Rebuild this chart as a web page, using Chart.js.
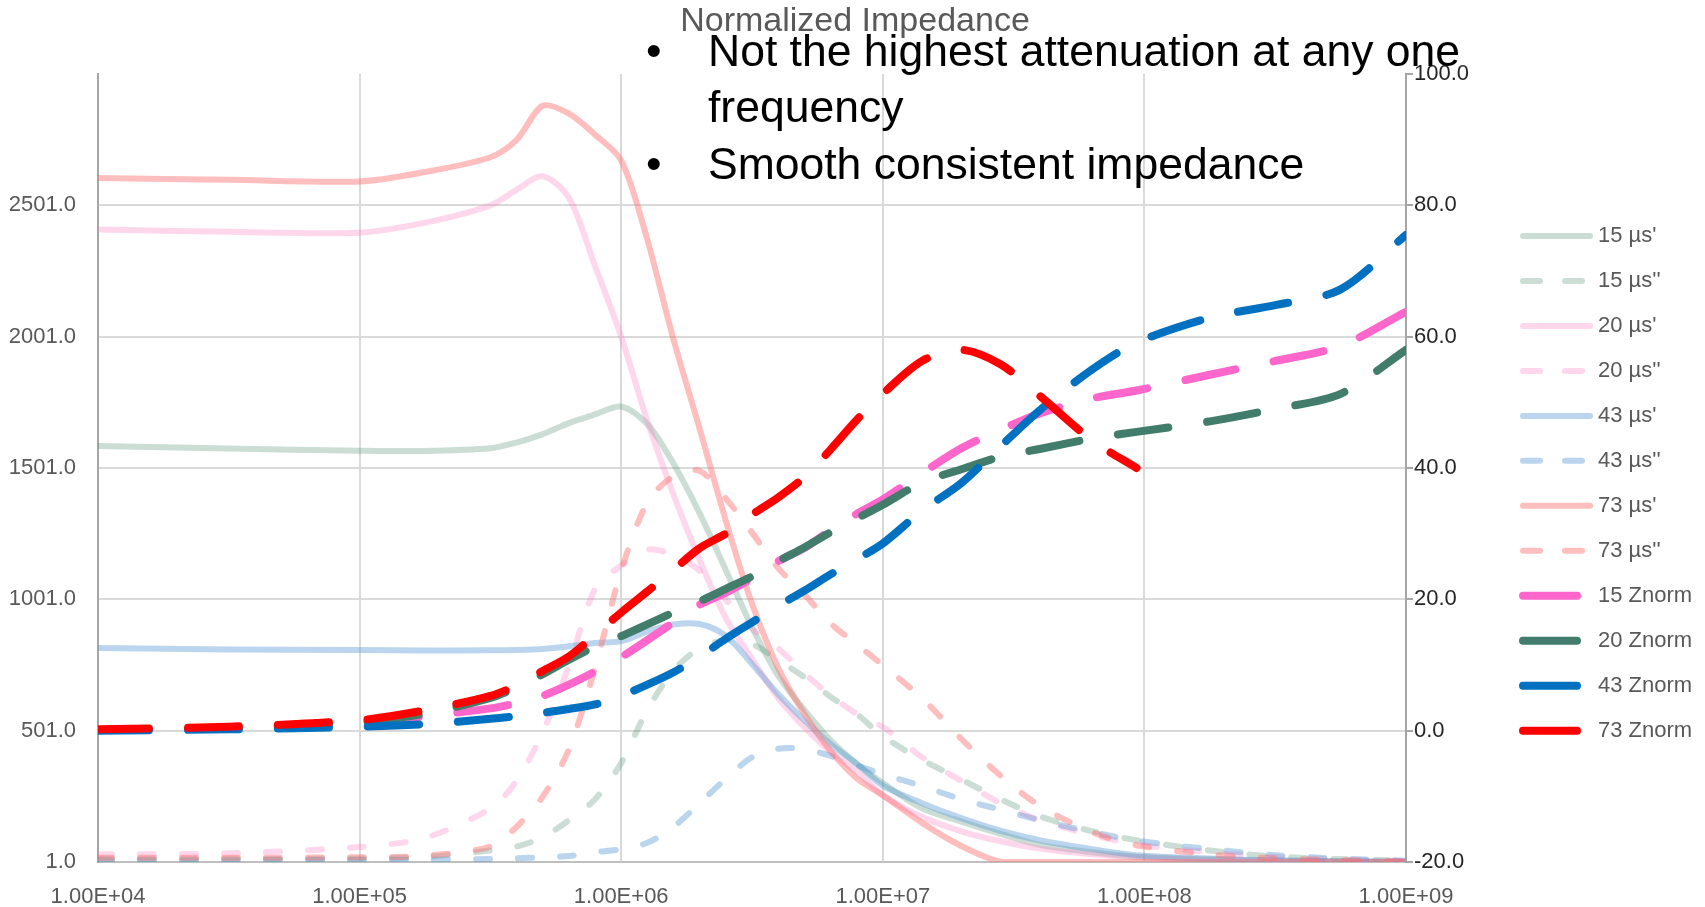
<!DOCTYPE html>
<html>
<head>
<meta charset="utf-8">
<script src="https://cdn.jsdelivr.net/npm/chart.js@4.4.1/dist/chart.umd.min.js"></script>
<style>
  html, body { margin: 0; padding: 0; background: #ffffff; overflow: hidden; }
  canvas { display: block; }
</style>
</head>
<body>
<canvas id="impedanceChart" width="1705" height="907"></canvas>
<script>
// Measurement frequencies (Hz)
const frequencyHz = [1e4, 31623, 1e5, 177828, 316228, 398107, 501187, 630957, 794328, 1e6,
  1258925, 1584893, 1995262, 2511886, 3162278, 3981072, 5011872, 6309573, 7943282, 1e7,
  14125375, 19952623, 28183829, 39810717, 63095734, 93325430, 177827941, 316227766, 562341325, 1e9];

// Complex permeability, real part (mu') and imaginary part (mu'') per material
const mu15Real = [1585, 1575, 1567, 1566, 1576, 1598, 1630, 1672, 1705, 1735, 1668, 1517, 1328, 1112, 895, 710, 580, 465, 375, 302, 205, 155, 108, 66, 38, 21, 11, 7, 4, 2];
const mu15Imag = [12, 12, 14, 20, 45, 60, 95, 160, 240, 378, 580, 730, 815, 845, 830, 770, 705, 630, 565, 480, 390, 315, 240, 175, 118, 84, 45, 22, 12, 6];
const mu20Real = [2409, 2400, 2397, 2435, 2501, 2560, 2612, 2530, 2270, 2001, 1680, 1400, 1150, 930, 775, 625, 515, 420, 345, 255, 172, 118, 80, 52, 30, 19, 8, 4, 2, 1];
const mu20Imag = [30, 34, 58, 93, 205, 310, 495, 747, 1040, 1130, 1190, 1170, 1110, 1000, 890, 815, 720, 635, 565, 515, 400, 310, 225, 160, 105, 68, 38, 20, 10, 5];
const mu43Real = [816, 810, 808, 806, 807, 808, 812, 822, 835, 842, 878, 905, 907, 862, 755, 640, 540, 450, 375, 292, 225, 168, 120, 84, 50, 27, 14, 7, 4, 2];
const mu43Imag = [8, 8, 9, 10, 12, 15, 19, 24, 38, 50, 74, 135, 225, 318, 400, 432, 432, 405, 370, 335, 290, 240, 200, 160, 115, 83, 50, 27, 14, 6];
const mu73Real = [2605, 2598, 2592, 2628, 2684, 2750, 2880, 2850, 2770, 2672, 2370, 1990, 1650, 1300, 985, 740, 565, 425, 320, 255, 150, 62, 2, 1, 1, 1, 1, 1, 1, 1];
const mu73Imag = [17, 17, 19, 25, 60, 135, 250, 430, 740, 1110, 1370, 1470, 1490, 1385, 1255, 1120, 1020, 910, 830, 750, 625, 470, 330, 215, 115, 65, 30, 15, 8, 4];

// Normalized impedance per material
const zNorm15 = [0.1, 0.4, 1.2, 2.2, 3.4, 4.2, 5.3, 7.0, 9.0, 11.2, 13.8, 16.5, 19.2, 21.0, 23.2, 25.8, 27.8, 30.5, 33.0, 35.2, 39.2, 43.0, 45.8, 48.3, 50.6, 51.8, 54.2, 56.3, 58.6, 63.8];
const zNorm20 = [0.1, 0.4, 1.3, 2.6, 5.0, 6.6, 8.6, 10.8, 12.8, 14.4, 16.2, 18.0, 19.7, 21.6, 23.5, 25.8, 27.9, 30.2, 32.3, 34.4, 37.8, 39.8, 41.7, 42.9, 44.5, 45.5, 47.1, 49.0, 51.3, 58.0];
const zNorm43 = [0.0, 0.2, 0.6, 1.0, 1.8, 2.2, 2.7, 3.3, 4.0, 5.3, 7.0, 8.9, 11.3, 14.0, 16.5, 19.0, 21.3, 23.8, 26.1, 28.5, 33.5, 37.7, 43.3, 48.8, 55.0, 59.1, 62.9, 64.8, 67.2, 75.5];
const zNorm73 = [0.2, 0.6, 1.6, 3.1, 5.3, 6.9, 9.1, 11.3, 14.6, 18.0, 21.2, 24.5, 27.8, 30.0, 32.9, 35.5, 38.6, 42.8, 47.3, 51.3, 56.3, 58.0, 55.8, 51.0, 44.2, 40.0, null, null, null, null];

// Axis tick values
const freqTicks = [1e4, 1e5, 1e6, 1e7, 1e8, 1e9];
const muTicks = [1, 501, 1001, 1501, 2001, 2501];
const zTicks = [-20, 0, 20, 40, 60, 80, 100];

const chartTitle = 'Normalized Impedance';
const bulletLines = [
  { bullet: true, text: 'Not the highest attenuation at any one' },
  { bullet: false, text: 'frequency' },
  { bullet: true, text: 'Smooth consistent impedance' }
];

const FONT = '"Liberation Sans", Arial, sans-serif';
const GREY_TEXT = '#595959';

function series(label, values, color, axis, width, dash, legendDash, legendLen) {
  return {
    label,
    data: values.map((v, i) => ({ x: frequencyHz[i], y: v })),
    yAxisID: axis,
    borderColor: color,
    backgroundColor: color,
    borderWidth: width,
    borderDash: dash,
    borderCapStyle: 'round',
    borderJoinStyle: 'round',
    pointRadius: 0,
    pointHoverRadius: 0,
    fill: false,
    spanGaps: false,
    tension: 0.3,
    legendDash,
    legendLen
  };
}

const SOLID = [];
const SHORT_DASH = [14, 28];
const LONG_DASH = [51, 39];
const LEGEND_DASH = [17, 25];

const datasets = [
  series("15 \u00b5s'",  mu15Real, 'rgba(84,141,117,0.30)',  'yMu', 6, SOLID, SOLID, 67),
  series("15 \u00b5s''", mu15Imag, 'rgba(84,141,117,0.30)',  'yMu', 6, SHORT_DASH, LEGEND_DASH, 59),
  series("20 \u00b5s'",  mu20Real, 'rgba(255,130,200,0.32)', 'yMu', 6, SOLID, SOLID, 67),
  series("20 \u00b5s''", mu20Imag, 'rgba(255,130,200,0.32)', 'yMu', 6, SHORT_DASH, LEGEND_DASH, 59),
  series("43 \u00b5s'",  mu43Real, 'rgba(91,155,213,0.42)',  'yMu', 6, SOLID, SOLID, 67),
  series("43 \u00b5s''", mu43Imag, 'rgba(91,155,213,0.42)',  'yMu', 6, SHORT_DASH, LEGEND_DASH, 59),
  series("73 \u00b5s'",  mu73Real, 'rgba(255,110,110,0.45)', 'yMu', 6, SOLID, SOLID, 67),
  series("73 \u00b5s''", mu73Imag, 'rgba(255,110,110,0.45)', 'yMu', 6, SHORT_DASH, LEGEND_DASH, 59),
  series('15 Znorm', zNorm15, '#ff66cc', 'yZ', 8, LONG_DASH, SOLID, 54),
  series('20 Znorm', zNorm20, '#417d6a', 'yZ', 8, LONG_DASH, SOLID, 54),
  series('43 Znorm', zNorm43, '#0070c0', 'yZ', 8, LONG_DASH, SOLID, 54),
  series('73 Znorm', zNorm73, '#ff0000', 'yZ', 8, LONG_DASH, SOLID, 54)
];
// later series are painted over earlier ones
datasets.forEach((ds, i) => { ds.order = datasets.length - i; });

function sciLabel(v) {
  const exp = Math.round(Math.log10(v));
  const mant = v / Math.pow(10, exp);
  return mant.toFixed(2) + 'E+' + String(exp).padStart(2, '0');
}

// Legend column, title and bullet text drawn on top of the plot
const overlayPlugin = {
  id: 'overlay',
  afterDraw(chart) {
    const ctx = chart.ctx;
    ctx.save();

    // legend
    const lx = 1523, tx = 1598, top = 236, gap = 44.97;
    chart.data.datasets.forEach((ds, i) => {
      const y = top + i * gap;
      ctx.strokeStyle = ds.borderColor;
      ctx.lineWidth = ds.borderWidth;
      ctx.lineCap = 'round';
      ctx.setLineDash(ds.legendDash);
      ctx.beginPath();
      ctx.moveTo(lx, y);
      ctx.lineTo(lx + ds.legendLen, y);
      ctx.stroke();
      ctx.setLineDash([]);
      ctx.fillStyle = GREY_TEXT;
      ctx.font = '22px ' + FONT;
      ctx.textAlign = 'left';
      ctx.textBaseline = 'middle';
      ctx.fillText(ds.label, tx, y);
    });

    // title
    ctx.fillStyle = GREY_TEXT;
    ctx.font = '34px ' + FONT;
    ctx.textAlign = 'center';
    ctx.textBaseline = 'middle';
    ctx.fillText(chartTitle, 855, 22);

    // bullet text
    ctx.fillStyle = '#000000';
    ctx.font = '44.5px ' + FONT;
    ctx.textAlign = 'left';
    const ys = [53.5, 110, 166.5];
    bulletLines.forEach((ln, i) => {
      if (ln.bullet) ctx.fillText('\u2022', 646, ys[i]);
      ctx.fillText(ln.text, 708, ys[i]);
    });
    ctx.restore();
  }
};

new Chart(document.getElementById('impedanceChart'), {
  type: 'line',
  data: { datasets },
  options: {
    responsive: false,
    animation: false,
    events: [],
    layout: { padding: { top: 74, right: 0, bottom: 0, left: 0 } },
    plugins: {
      legend: { display: false },
      title: { display: false },
      tooltip: { enabled: false }
    },
    scales: {
      x: {
        type: 'logarithmic',
        position: 'bottom',
        min: 1e4,
        max: 1e9,
        afterBuildTicks: s => { s.ticks = freqTicks.map(v => ({ value: v })); },
        afterFit: s => { s.height = 45; },
        ticks: {
          autoSkip: false, maxRotation: 0, padding: 22,
          color: GREY_TEXT, font: { family: FONT, size: 22 },
          callback: v => sciLabel(v)
        },
        grid: { color: '#d9d9d9', lineWidth: 2, drawTicks: false },
        border: { color: '#bfbfbf', width: 2 }
      },
      yMu: {
        type: 'linear',
        position: 'left',
        min: 1,
        max: 3001,
        afterBuildTicks: s => { s.ticks = muTicks.map(v => ({ value: v })); },
        afterFit: s => { s.width = 98; },
        ticks: {
          padding: 22, color: GREY_TEXT, font: { family: FONT, size: 22 },
          callback: v => v.toFixed(1)
        },
        grid: { color: '#d9d9d9', lineWidth: 2, drawTicks: false },
        border: { color: '#a6a6a6', width: 2 }
      },
      yZ: {
        type: 'linear',
        position: 'right',
        min: -20,
        max: 100,
        afterBuildTicks: s => { s.ticks = zTicks.map(v => ({ value: v })); },
        afterFit: s => { s.width = 299; },
        ticks: {
          padding: 1, color: '#262626', font: { family: FONT, size: 22 },
          callback: v => v.toFixed(1)
        },
        grid: { drawOnChartArea: false, color: '#a6a6a6', lineWidth: 2, tickLength: 7 },
        border: { color: '#a6a6a6', width: 2 }
      }
    }
  },
  plugins: [overlayPlugin]
});
</script>
</body>
</html>
